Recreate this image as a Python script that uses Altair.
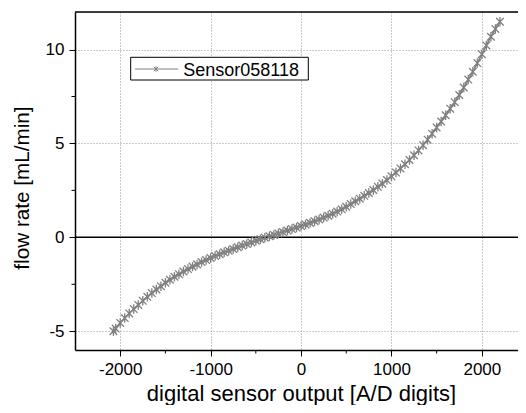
import altair as alt
import pandas as pd

# ---- data ----
x_digits = [-2075, -2050, -2000, -1950, -1900, -1850, -1800, -1750, -1700, -1650,
            -1600, -1550, -1500, -1450, -1400, -1350, -1300, -1250, -1200, -1150,
            -1100, -1050, -1000, -950, -900, -850, -800, -750, -700, -650,
            -600, -550, -500, -450, -400, -350, -300, -250, -200, -150,
            -100, -50, 0, 50, 100, 150, 200, 250, 300, 350,
            400, 450, 500, 550, 600, 650, 700, 750, 800, 850,
            900, 950, 1000, 1050, 1100, 1150, 1200, 1250, 1300, 1350,
            1400, 1450, 1500, 1550, 1600, 1650, 1700, 1750, 1800, 1850,
            1900, 1950, 2000, 2050, 2100, 2150, 2200]
flow_rate = [-5.00, -4.86, -4.56, -4.30, -4.05, -3.82, -3.60, -3.38, -3.17, -2.97,
             -2.78, -2.60, -2.42, -2.26, -2.10, -1.96, -1.82, -1.69, -1.56, -1.44,
             -1.32, -1.21, -1.10, -1.00, -0.90, -0.80, -0.71, -0.62, -0.53, -0.44,
             -0.36, -0.27, -0.18, -0.10, -0.02, 0.06, 0.13, 0.21, 0.28, 0.36,
             0.44, 0.52, 0.60, 0.68, 0.77, 0.86, 0.95, 1.05, 1.15, 1.26,
             1.37, 1.49, 1.63, 1.77, 1.92, 2.06, 2.21, 2.36, 2.52, 2.69,
             2.86, 3.05, 3.25, 3.45, 3.67, 3.89, 4.12, 4.37, 4.63, 4.91,
             5.20, 5.52, 5.85, 6.17, 6.50, 6.85, 7.20, 7.58, 7.98, 8.40,
             8.82, 9.28, 9.75, 10.22, 10.68, 11.10, 11.48]
x_major = [-2000, -1000, 0, 1000, 2000]
x_minor = [-1500, -500, 500, 1500]
y_major = [-5, 0, 5, 10]
y_minor = [-2.5, 2.5, 7.5]
series_name = "Sensor058118"
x_title = "digital sensor output [A/D digits]"
y_title = "flow rate [mL/min]"

# ---- layout / style ----
W, H = 443, 338
FONT = "Liberation Sans"
GRAY = "#808080"
STAR = "M0,-1L0,1M-0.8,-0.8L0.8,0.8M-0.8,0.8L0.8,-0.8"

df = pd.DataFrame({"x": x_digits, "y": flow_rate})
xs = alt.Scale(domain=[-2500, 2400], nice=False, zero=False)
ys = alt.Scale(domain=[-6, 12], nice=False, zero=False)

x_axis = alt.Axis(values=x_major, title=x_title, grid=True, gridDash=[1, 2],
                  gridColor="#999999", gridWidth=1,
                  labelFont=FONT, labelFontSize=17, labelColor="black",
                  labelExpr="datum.value + ''", labelPadding=5, labelFlush=False,
                  tickColor="black", tickSize=6, tickWidth=1,
                  domainColor="black", domainWidth=1.5,
                  titleFont=FONT, titleFontSize=22, titleFontWeight="normal",
                  titleColor="black", titleBaseline="alphabetic", titleAlign="center",
                  titleX=226, titleY=50)
y_axis = alt.Axis(values=y_major, title=y_title, grid=True, gridDash=[1, 2],
                  gridColor="#999999", gridWidth=1,
                  labelFont=FONT, labelFontSize=17, labelColor="black",
                  labelExpr="datum.value + ''", labelPadding=5, labelFlush=False,
                  tickColor="black", tickSize=6, tickWidth=1,
                  domainColor="black", domainWidth=1.5,
                  titleFont=FONT, titleFontSize=20.7, titleFontWeight="normal",
                  titleColor="black", titleBaseline="alphabetic", titleAlign="center",
                  titleAngle=270, titleX=-47, titleY=175.5)

X = alt.X("x:Q", scale=xs, axis=x_axis)
Y = alt.Y("y:Q", scale=ys, axis=y_axis)

base = alt.Chart(df)
line = base.mark_line(color=GRAY, strokeWidth=1.5).encode(x=X, y=Y)
pts = base.mark_point(shape=STAR, filled=False, color=GRAY, size=90,
                      strokeWidth=1.3, opacity=1).encode(x=X, y=Y)

zero_line = alt.Chart(pd.DataFrame({"y": [0]})).mark_rule(
    color="black", strokeWidth=1.5).encode(y=Y)

top_border = alt.Chart(pd.DataFrame({"a": [0]})).mark_rule(
    color="black", strokeWidth=1.5).encode(
    x=alt.value(0), x2=alt.value(W), y=alt.value(0))

x_minor_ticks = alt.Chart(pd.DataFrame({"x": x_minor})).mark_rule(
    color="black", strokeWidth=1).encode(
    x=X, y=alt.value(H), y2=alt.value(H + 3.5))
y_minor_ticks = alt.Chart(pd.DataFrame({"y": y_minor})).mark_rule(
    color="black", strokeWidth=1).encode(
    y=Y, x=alt.value(0), x2=alt.value(-3.5))

leg_df = pd.DataFrame({"label": [series_name]})
leg_box = alt.Chart(leg_df).mark_rect(fill="white", stroke="black",
                                      strokeWidth=1).encode(
    x=alt.value(55.7), x2=alt.value(233.3), y=alt.value(45.3), y2=alt.value(68))
leg_line = alt.Chart(leg_df).mark_rule(color=GRAY, strokeWidth=1).encode(
    x=alt.value(60), x2=alt.value(103.3), y=alt.value(57))
leg_star = alt.Chart(leg_df).mark_point(shape=STAR, filled=False, color=GRAY,
                                        size=30, strokeWidth=1, opacity=1).encode(
    x=alt.value(81), y=alt.value(57))
leg_text = alt.Chart(leg_df).mark_text(font=FONT, fontSize=18, color="black",
                                       align="left", baseline="alphabetic").encode(
    x=alt.value(108.3), y=alt.value(64), text="label:N")

chart = alt.layer(
    line, x_minor_ticks, y_minor_ticks, zero_line, top_border, pts,
    leg_box, leg_line, leg_star, leg_text,
).properties(
    width=W, height=H,
    autosize=alt.AutoSizeParams(type="none"),
    padding={"left": 67, "top": 4, "right": 0, "bottom": 55},
).configure_view(stroke=None).configure(background="white")

chart.save("out.html", embed_options={"renderer": "svg", "actions": False})
